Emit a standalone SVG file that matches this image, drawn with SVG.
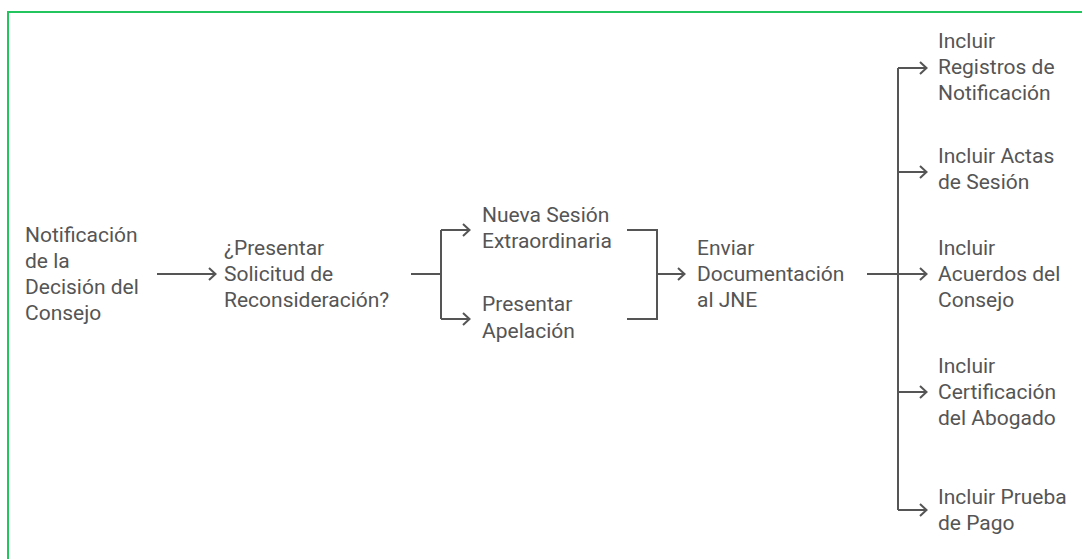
<svg xmlns="http://www.w3.org/2000/svg" width="1082" height="559" viewBox="0 0 1082 559">
<defs>
<style>
text{font-family:Roboto,"Liberation Sans",sans-serif;font-size:21px;fill:#555555}
.ln{fill:none;stroke:#555555;stroke-width:2}
</style>
<marker id="ah" viewBox="0 0 10 14" markerWidth="10" markerHeight="14" refX="9" refY="7" orient="auto" markerUnits="userSpaceOnUse">
<path d="M2,1 L8.5,7 L2,13" fill="none" stroke="#555555" stroke-width="2"/>
</marker>
</defs>
<rect width="1082" height="559" fill="#ffffff"/>
<rect x="8" y="12" width="1200" height="700" fill="none" stroke="#22c55e" stroke-width="2"/>
<g id="connectors">
<path class="ln" d="M157,274 H216" marker-end="url(#ah)"/>
<path class="ln" d="M411,274 H441"/>
<path class="ln" d="M441,230 V319"/>
<path class="ln" d="M441,230 H470" marker-end="url(#ah)"/>
<path class="ln" d="M441,319 H470" marker-end="url(#ah)"/>
<path class="ln" d="M627,230 H657 V319 H627"/>
<path class="ln" d="M657,274 H685" marker-end="url(#ah)"/>
<path class="ln" d="M867,274 H898"/>
<path class="ln" d="M898,68 V510"/>
<path class="ln" d="M898,68 H927" marker-end="url(#ah)"/>
<path class="ln" d="M898,172 H927" marker-end="url(#ah)"/>
<path class="ln" d="M898,274 H927" marker-end="url(#ah)"/>
<path class="ln" d="M898,392 H927" marker-end="url(#ah)"/>
<path class="ln" d="M898,510 H927" marker-end="url(#ah)"/>
</g>
<g id="n1"><text x="25" y="242">Notificación</text><text x="25" y="268">de la</text><text x="25" y="294">Decisión del</text><text x="25" y="320">Consejo</text></g>
<g id="n2"><text x="224" y="255">¿Presentar</text><text x="224" y="281">Solicitud de</text><text x="224" y="307">Reconsideración?</text></g>
<g id="n3"><text x="482" y="222">Nueva Sesión</text><text x="482" y="248">Extraordinaria</text></g>
<g id="n4"><text x="482" y="311">Presentar</text><text x="482" y="338">Apelación</text></g>
<g id="n5"><text x="697" y="255">Enviar</text><text x="697" y="281">Documentación</text><text x="697" y="307">al JNE</text></g>
<g id="n6"><text x="938" y="48">Incluir</text><text x="938" y="74">Registros de</text><text x="938" y="100">Notificación</text></g>
<g id="n7"><text x="938" y="163">Incluir Actas</text><text x="938" y="189">de Sesión</text></g>
<g id="n8"><text x="938" y="255">Incluir</text><text x="938" y="281">Acuerdos del</text><text x="938" y="307">Consejo</text></g>
<g id="n9"><text x="938" y="373">Incluir</text><text x="938" y="399">Certificación</text><text x="938" y="425">del Abogado</text></g>
<g id="n10"><text x="938" y="504">Incluir Prueba</text><text x="938" y="530">de Pago</text></g>
</svg>
